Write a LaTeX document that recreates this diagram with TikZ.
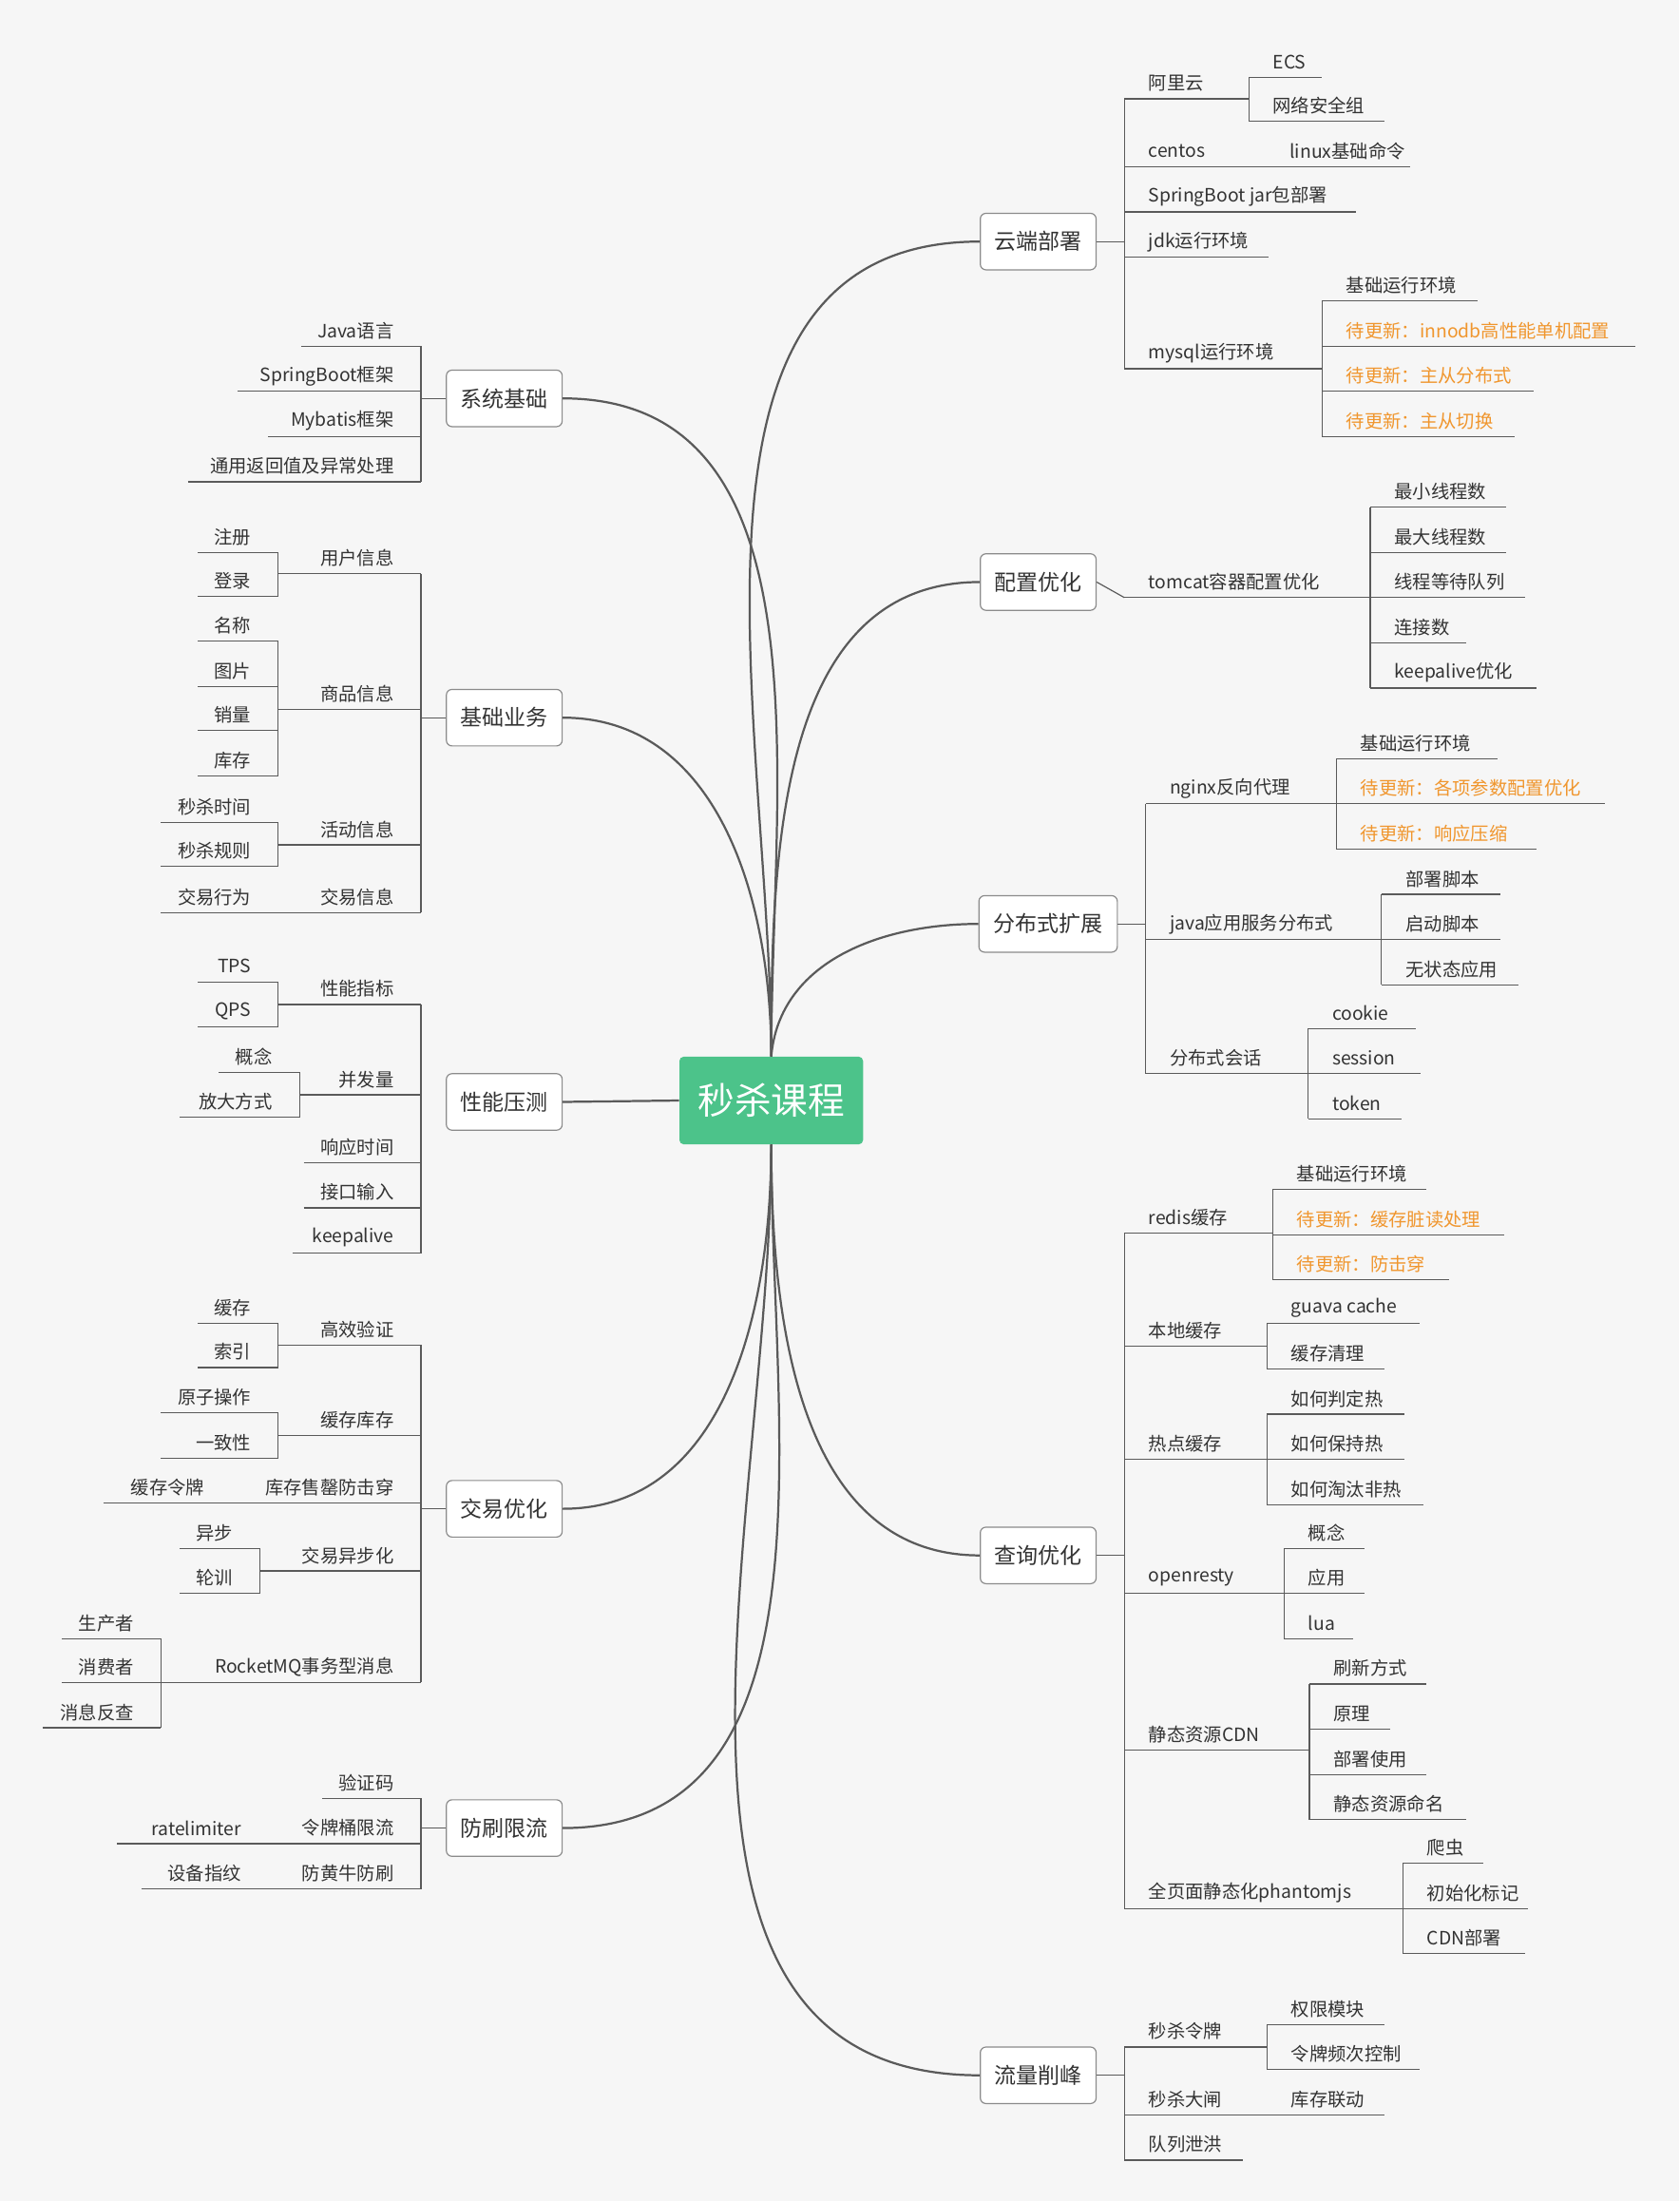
\documentclass[tikz,border=0pt]{standalone}
\usepackage{fontspec}
\setmainfont{Noto Sans CJK SC}
\definecolor{bg}{HTML}{F6F6F6}
\definecolor{ln}{HTML}{5A5A5A}
\definecolor{tx}{HTML}{333333}
\definecolor{og}{HTML}{F0962E}
\definecolor{gr}{HTML}{4CC38A}
\tikzset{
 leaf/.style={inner sep=0pt,text=tx,font=\fontsize{13}{15}\selectfont},
 topic/.style={draw=ln!70,fill=white,rounded corners=4pt,minimum width=82pt,minimum height=40pt,text=tx,font=\fontsize{15.5}{18}\selectfont,line width=0.8pt},
 br/.style={draw=ln,line width=0.8pt},
 mainline/.style={draw=ln,line width=1.5pt}
}
% right item: x1 x2 y text color
\newcommand{\rit}[5][tx]{\draw[br] (#2,#4)--(#3,#4); \node[leaf,text=#1,anchor=west] at (#2+17,#4-11) {#5};}
\newcommand{\lit}[4]{\draw[br] (#1,#3)--(#2,#3); \node[leaf,anchor=east] at (#2-19,#3-11) {#4};}
\newcommand{\vbar}[3]{\draw[br] (#1,#2)--(#1,#3);}
\begin{document}
\begin{tikzpicture}[x=1pt,y=-1pt]
\fill[bg] (0,0) rectangle (1189,1558);
\useasboundingbox (0,0) rectangle (1189,1558);
\node[fill=gr,rounded corners=3pt,minimum width=130pt,minimum height=62pt,text=white,font=\fontsize{26}{30}\selectfont] (c) at (546,779) {秒杀课程};
\node[topic] (n1) at (735,171) {云端部署};
\node[topic] (n2) at (735,412) {配置优化};
\node[topic,minimum width=98pt] (n3) at (742,654) {分布式扩展};
\node[topic] (n4) at (735,1101) {查询优化};
\node[topic] (n5) at (735,1469) {流量削峰};
\node[topic] (m1) at (357,282) {系统基础};
\node[topic] (m2) at (357,508) {基础业务};
\node[topic] (m3) at (357,780) {性能压测};
\node[topic] (m4) at (357,1068) {交易优化};
\node[topic] (m5) at (357,1294) {防刷限流};
\draw[mainline] (c.north) to[out=90,in=180] (n1.west);
\draw[mainline] (c.north) to[out=90,in=180] (n2.west);
\draw[mainline] (c.north) to[out=85,in=180] (n3.west);
\draw[mainline] (c.south) to[out=-90,in=180] (n4.west);
\draw[mainline] (c.south) to[out=-90,in=180] (n5.west);
\draw[mainline] (c.north) to[out=90,in=0] (m1.east);
\draw[mainline] (c.north) to[out=90,in=0] (m2.east);
\draw[mainline] (c.west) -- (m3.east);
\draw[mainline] (c.south) to[out=-90,in=0] (m4.east);
\draw[mainline] (c.south) to[out=-90,in=0] (m5.east);
% 云端部署
\draw[br] (n1.east)--(796,171); \vbar{796}{70}{261}
\rit{796}{884}{70}{阿里云} \vbar{884}{55}{86}
\rit{884}{936}{55}{ECS} \rit{884}{980}{86}{网络安全组}
\rit{796}{896}{118}{centos} \rit{896}{998}{118}{linux基础命令}
\rit{796}{960}{150}{SpringBoot jar包部署}
\rit{796}{898}{182}{jdk运行环境}
\rit{796}{936}{261}{mysql运行环境} \vbar{936}{213}{309}
\rit{936}{1046}{213}{基础运行环境}
\rit[og]{936}{1158}{245}{待更新：innodb高性能单机配置}
\rit[og]{936}{1086}{277}{待更新：主从分布式}
\rit[og]{936}{1072}{309}{待更新：主从切换}
% 配置优化
\draw[br] (n2.east)--(796,423);
\rit{796}{970}{423}{tomcat容器配置优化} \vbar{970}{359}{487}
\rit{970}{1066}{359}{最小线程数} \rit{970}{1066}{391}{最大线程数}
\rit{970}{1080}{423}{线程等待队列} \rit{970}{1038}{455}{连接数}
\rit{970}{1088}{487}{keepalive优化}
% 分布式扩展
\draw[br] (n3.east)--(811,654); \vbar{811}{569}{760}
\rit{811}{946}{569}{nginx反向代理} \vbar{946}{537}{601}
\rit{946}{1060}{537}{基础运行环境}
\rit[og]{946}{1136}{569}{待更新：各项参数配置优化}
\rit[og]{946}{1088}{601}{待更新：响应压缩}
\rit{811}{978}{665}{java应用服务分布式} \vbar{978}{633}{697}
\rit{978}{1062}{633}{部署脚本} \rit{978}{1062}{665}{启动脚本} \rit{978}{1075}{697}{无状态应用}
\rit{811}{926}{760}{分布式会话} \vbar{926}{728}{792}
\rit{926}{1002}{728}{cookie} \rit{926}{1006}{760}{session} \rit{926}{992}{792}{token}
% 查询优化
\draw[br] (n4.east)--(796,1101); \vbar{796}{873}{1351}
\rit{796}{901}{873}{redis缓存} \vbar{901}{842}{906}
\rit{901}{1010}{842}{基础运行环境}
\rit[og]{901}{1065}{874}{待更新：缓存脏读处理}
\rit[og]{901}{1026}{906}{待更新：防击穿}
\rit{796}{897}{953}{本地缓存} \vbar{897}{937}{969}
\rit{897}{1005}{937}{guava cache} \rit{897}{980}{969}{缓存清理}
\rit{796}{897}{1033}{热点缓存} \vbar{897}{1001}{1065}
\rit{897}{994}{1001}{如何判定热} \rit{897}{994}{1033}{如何保持热} \rit{897}{1008}{1065}{如何淘汰非热}
\rit{796}{909}{1128}{openresty} \vbar{909}{1096}{1160}
\rit{909}{966}{1096}{概念} \rit{909}{966}{1128}{应用} \rit{909}{958}{1160}{lua}
\rit{796}{927}{1239}{静态资源CDN} \vbar{927}{1192}{1288}
\rit{927}{1010}{1192}{刷新方式} \rit{927}{984}{1224}{原理} \rit{927}{1010}{1256}{部署使用} \rit{927}{1038}{1288}{静态资源命名}
\rit{796}{993}{1351}{全页面静态化phantomjs} \vbar{993}{1319}{1383}
\rit{993}{1050}{1319}{爬虫} \rit{993}{1082}{1351}{初始化标记} \rit{993}{1080}{1383}{CDN部署}
% 流量削峰
\draw[br] (n5.east)--(796,1469); \vbar{796}{1449}{1529}
\rit{796}{897}{1449}{秒杀令牌} \vbar{897}{1433}{1465}
\rit{897}{980}{1433}{权限模块} \rit{897}{1005}{1465}{令牌频次控制}
\rit{796}{897}{1497}{秒杀大闸} \rit{897}{980}{1497}{库存联动}
\rit{796}{880}{1529}{队列泄洪}
% 系统基础
\draw[br] (m1.west)--(298,282); \vbar{298}{245}{341}
\lit{213}{298}{245}{Java语言} \lit{168}{298}{277}{SpringBoot框架}
\lit{190}{298}{309}{Mybatis框架} \lit{133}{298}{341}{通用返回值及异常处理}
% 基础业务
\draw[br] (m2.west)--(298,508); \vbar{298}{406}{646}
\lit{197}{298}{406}{用户信息} \vbar{197}{391}{422}
\lit{140}{197}{391}{注册} \lit{140}{197}{422}{登录}
\lit{197}{298}{502}{商品信息} \vbar{197}{454}{549}
\lit{140}{197}{454}{名称} \lit{140}{197}{486}{图片} \lit{140}{197}{517}{销量} \lit{140}{197}{549}{库存}
\lit{197}{298}{598}{活动信息} \vbar{197}{582}{613}
\lit{114}{197}{582}{秒杀时间} \lit{114}{197}{613}{秒杀规则}
\lit{197}{298}{646}{交易信息} \lit{114}{197}{646}{交易行为}
% 性能压测
\vbar{298}{711}{887}
\lit{197}{298}{711}{性能指标} \vbar{197}{695}{727}
\lit{140}{197}{695}{TPS} \lit{140}{197}{727}{QPS}
\lit{212}{298}{775}{并发量} \vbar{212}{759}{791}
\lit{155}{212}{759}{概念} \lit{127}{212}{791}{放大方式}
\lit{215}{298}{823}{响应时间} \lit{215}{298}{855}{接口输入} \lit{207}{298}{887}{keepalive}
% 交易优化
\draw[br] (m4.west)--(298,1068); \vbar{298}{952}{1191}
\lit{197}{298}{952}{高效验证} \vbar{197}{937}{968}
\lit{140}{197}{937}{缓存} \lit{140}{197}{968}{索引}
\lit{197}{298}{1016}{缓存库存} \vbar{197}{1000}{1032}
\lit{114}{197}{1000}{原子操作} \lit{114}{197}{1032}{一致性}
\lit{164}{298}{1064}{库存售罄防击穿} \lit{73}{164}{1064}{缓存令牌}
\lit{184}{298}{1112}{交易异步化} \vbar{184}{1096}{1128}
\lit{127}{184}{1096}{异步} \lit{127}{184}{1128}{轮训}
\lit{114}{298}{1191}{RocketMQ事务型消息} \vbar{114}{1160}{1223}
\lit{44}{114}{1160}{生产者} \lit{44}{114}{1191}{消费者} \lit{30}{114}{1223}{消息反查}
% 防刷限流
\draw[br] (m5.west)--(298,1294); \vbar{298}{1273}{1337}
\lit{228}{298}{1273}{验证码}
\lit{190}{298}{1305}{令牌桶限流} \lit{83}{190}{1305}{ratelimiter}
\lit{190}{298}{1337}{防黄牛防刷} \lit{100}{190}{1337}{设备指纹}
\end{tikzpicture}
\end{document}
